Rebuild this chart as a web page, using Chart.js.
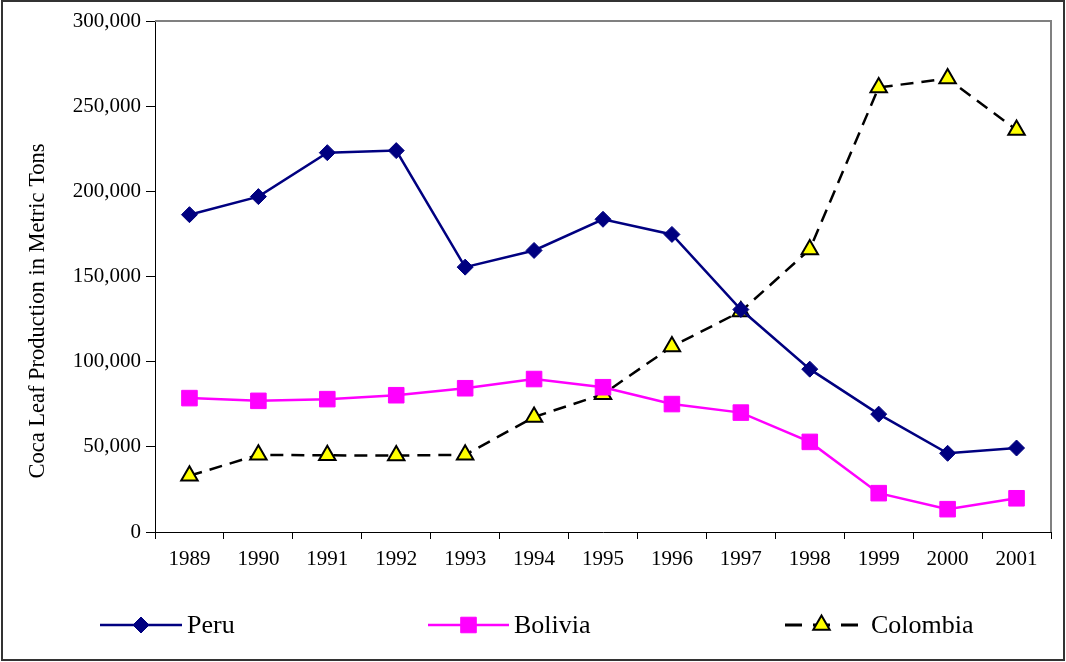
<!DOCTYPE html>
<html>
<head>
<meta charset="utf-8">
<script src="https://cdn.jsdelivr.net/npm/chart.js@4/dist/chart.umd.min.js"></script>
<style>
html,body{margin:0;padding:0;background:#fff;}
#wrap{width:1066px;height:662px;position:relative;}
</style>
</head>
<body>
<div id="wrap"><canvas id="c" width="1066" height="662"></canvas></div>
<script>
const years = ['1989','1990','1991','1992','1993','1994','1995','1996','1997','1998','1999','2000','2001'];
const peru = [186300,196900,222700,223900,155500,165300,183600,174700,130600,95600,69200,46200,49300];
const bolivia = [78600,77000,78000,80300,84400,89800,85000,75100,70100,52900,22800,13400,19800];
const colombia = [33000,45300,45000,44900,45300,67500,80900,108900,129500,165900,261000,266200,236000];
const yTicks = [0,50000,100000,150000,200000,250000,300000];
const yTitle = 'Coca Leaf Production in Metric Tons';

const serif = '"Liberation Serif", "Times New Roman", serif';

const frame = {
  id:'frame',
  afterDraw(chart){
    const ctx = chart.ctx, a = chart.chartArea;
    ctx.save();
    ctx.strokeStyle = '#808080'; ctx.lineWidth = 2;
    ctx.beginPath();
    ctx.moveTo(a.left, a.top); ctx.lineTo(a.right, a.top); ctx.lineTo(a.right, a.bottom);
    ctx.stroke();
    ctx.strokeStyle = '#333'; ctx.lineWidth = 2;
    ctx.strokeRect(2, 1, 1062, 659);
    // y-axis title
    ctx.save();
    ctx.translate(38, 311);
    ctx.rotate(-Math.PI/2);
    ctx.fillStyle = '#000'; ctx.font = '22.5px ' + serif;
    ctx.textAlign = 'center'; ctx.textBaseline = 'middle';
    ctx.fillText(yTitle, 0, 0);
    ctx.restore();
    // legend
    const items = [
      {ds:0, x:100, len:82, label:'Peru'},
      {ds:1, x:428, len:81, label:'Bolivia'},
      {ds:2, x:785, len:73, label:'Colombia'}
    ];
    const ly = 625;
    items.forEach(it=>{
      const ds = chart.data.datasets[it.ds];
      ctx.save();
      ctx.strokeStyle = ds.borderColor; ctx.lineWidth = ds.legendDash ? 3 : ds.borderWidth;
      ctx.setLineDash(ds.legendDash || []);
      ctx.beginPath(); ctx.moveTo(it.x, ly); ctx.lineTo(it.x+it.len, ly); ctx.stroke();
      ctx.restore();
      ctx.save();
      ctx.fillStyle = ds.pointBackgroundColor; ctx.strokeStyle = ds.pointBorderColor; ctx.lineWidth = ds.pointBorderWidth;
      Chart.helpers.drawPoint(ctx, {pointStyle: ds.pointStyle, radius: ds.pointRadius, borderWidth: ds.pointBorderWidth}, it.x+it.len/2, ly);
      ctx.restore();
      ctx.fillStyle = '#000'; ctx.font = '26px ' + serif; ctx.textBaseline = 'middle'; ctx.textAlign='left';
      ctx.fillText(it.label, it.x+it.len+(it.ds===2?13:5), ly+1);
    });
    ctx.restore();
  }
};

new Chart(document.getElementById('c'), {
  type:'line',
  data:{
    labels: years,
    datasets:[
      {label:'Peru', data:peru, borderColor:'#000080', borderWidth:2.5, pointStyle:'rectRot', pointRadius:8,
       pointBackgroundColor:'#000080', pointBorderColor:'#000080', pointBorderWidth:1, tension:0},
      {label:'Bolivia', data:bolivia, borderColor:'#FF00FF', borderWidth:2.5, pointStyle:'rect', pointRadius:11,
       pointBackgroundColor:'#FF00FF', pointBorderColor:'#FF00FF', pointBorderWidth:1, tension:0},
      {label:'Colombia', data:colombia, borderColor:'#000000', borderWidth:2.5, borderDash:[13,8], legendDash:[17,11], pointStyle:'triangle', pointRadius:9.5,
       pointBackgroundColor:'#FFFF00', pointBorderColor:'#000000', pointBorderWidth:2, tension:0}
    ]
  },
  options:{
    responsive:false, animation:false,
    layout:{padding:{left:0, right:15, top:21, bottom:70}},
    plugins:{legend:{display:false}, tooltip:{enabled:false}},
    scales:{
      x:{
        offset:true,
        grid:{offset:true, drawOnChartArea:false, color:'#000', tickLength:7, lineWidth:1},
        border:{color:'#000', width:1},
        ticks:{color:'#000', font:{family:serif, size:21}, padding:8, maxRotation:0},
        afterFit(s){ s.height = 60; }
      },
      y:{
        min:0, max:300000,
        afterBuildTicks(s){ s.ticks = yTicks.map(v=>({value:v})); },
        grid:{drawOnChartArea:false, color:'#000', tickLength:9},
        border:{color:'#000', width:1},
        ticks:{color:'#000', font:{family:serif, size:21}, padding:5,
          callback:v=>v.toLocaleString('en-US')},
        afterFit(s){ s.width = 155; }
      }
    }
  },
  plugins:[frame]
});
</script>
</body>
</html>
